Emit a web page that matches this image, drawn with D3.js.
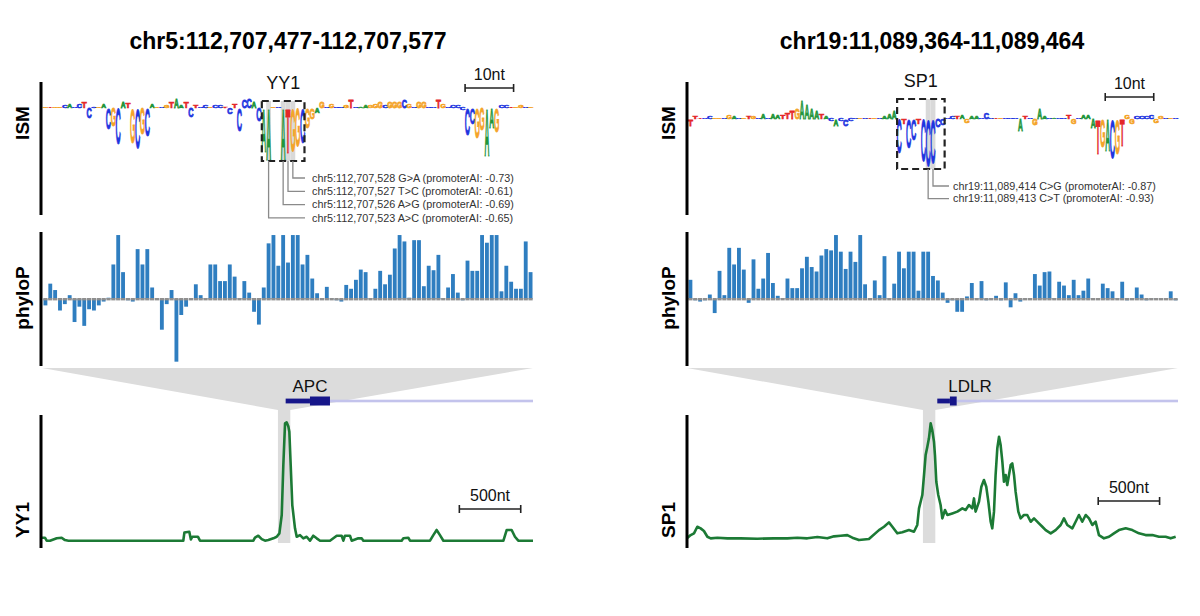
<!DOCTYPE html>
<html>
<head>
<meta charset="utf-8">
<title>ISM / phyloP / ChIP tracks</title>
<script src="https://cdn.jsdelivr.net/npm/d3@7"></script>
<style>
  body { margin: 0; background: #fff; }
  text { font-family: Arial, "Liberation Sans", sans-serif; }
</style>
</head>
<body>
<svg id="fig" width="1200" height="616"></svg>
<script>
// ---- data: left locus (APC / YY1) ----
const leftTitle = "chr5:112,707,477-112,707,577";
const leftSeq = "GTGGCACCTC" + "CGACGCATGC" + "GCAGCGTAAT" + "CTCCGCCTCT" + "CCCACAAGCA" +
                "TGGCGGAGCG" + "CCGTCAAGGG" + "CGGGCGCGGC" + "CTGCCCCCCG" + "GAAGCCTGGC" + "G";
const leftIsm = [
  0.05, 0.05, 0.06, 0.05, 0.12, 0.18, 0.05, 0.22, 0.3, -0.5,
  0.08, 0.06, 0.22, -1.05, -0.9, -1.8, 0.3, 0.28, -1.75, -2.0,
  -1.3, -1.4, 0.2, 0.06, 0.05, 0.12, 0.3, 0.45, 0.1, 0.3,
  -0.45, 0.15, 0.06, 0.12, 0.06, 0.1, 0.12, 0.08, -0.3, 0.2,
  -1.15, 0.4, 0.45, 0.35, -0.65, -2.2, -2.6, 0.05, 0.05, -2.6,
  -2.25, -2.15, -1.9, -1.75, -1.0, -0.55, -0.25, 0.35, 0.06, 0.2,
  0.06, 0.06, 0.15, 0.4, 0.06, 0.08, 0.12, 0.1, 0.2, 0.3,
  0.12, 0.3, 0.3, 0.3, 0.4, 0.2, 0.06, 0.3, 0.3, 0.06,
  0.05, 0.4, 0.2, 0.06, 0.15, 0.15, -0.1, -1.35, -0.8, -1.5,
  -1.1, -2.4, -1.0, -1.2, 0.15, 0.1, 0.06, 0.05, 0.15, 0.05,
  0.05
];
const leftPhyloP = [
  -0.5, 1.2, 0.7, -0.9, -0.4, 0.3, -1.8, -0.6, -2.1, -0.8,
  -0.9, -0.5, -0.2, 0.1, 2.7, 5.0, 2.1, -0.1, -0.2, 3.9,
  2.7, 3.9, 0.9, 0.05, -2.4, -0.4, 0.7, -4.9, -1.25, -0.6,
  0.05, 1.15, 0.3, 0.05, 2.7, 2.7, 1.4, 1.4, 2.7, 1.75,
  0.05, 1.4, 0.5, -1.0, -2.0, 0.9, 4.35, 5.0, 2.6, 5.0,
  2.85, 5.0, 5.0, 2.7, 3.45, 1.6, 0.45, 0.05, 0.95, 0.05,
  -0.1, -0.2, 1.1, 0.8, 1.5, 2.3, 2.1, 0.05, 0.8, 2.2,
  1.15, 1.9, 3.95, 5.0, 4.5, 0.1, 4.6, 4.6, 1.0, 2.6,
  2.25, 3.45, 0.05, 0.9, 1.95, 0.5, -0.1, 3.0, 2.2, 2.2,
  5.0, 4.4, 5.0, 5.0, 0.6, 2.6, 1.35, 0.8, 0.8, 4.5,
  2.1
];
const leftHighlight = [46, 49, 50, 51];
const leftVarIdx = [51, 50, 49, 46];
const leftVarLabels = [
  "chr5:112,707,528 G>A (promoterAI: -0.73)",
  "chr5:112,707,527 T>C (promoterAI: -0.61)",
  "chr5:112,707,526 A>G (promoterAI: -0.69)",
  "chr5:112,707,523 A>C (promoterAI: -0.65)"
];
const leftSigPos = [0, 24, 38, 65, 120, 160, 187, 215, 1151, 1160, 1200, 1213, 1225, 1270, 1287,
  1722, 1735, 1762, 1790, 1817, 1844, 1885, 1912, 1934, 1953, 1966, 1980, 1993, 2007, 2015,
  2026, 2039, 2061, 2075, 2102, 2129, 2156, 2183, 2210, 2238, 2265, 2346, 2401, 2441, 2455,
  2468, 2509, 2523, 2577, 2604, 2618, 2930, 2944, 2984, 2998, 3161, 3188, 3215, 3242, 3270,
  3759, 3786, 3826, 3853, 3880, 4000];
const leftSigVal = [2.4, 2.4, 0, 0, 1.9, 2.4, 0.5, 0, 0, 6.5, 7.2, 1, 3.2, 3.2, 0,
  0, 2.4, 4, 1.3, 0, 0.5, 1.9, 3.2, 5.9, 20.6, 60.7, 94.1, 94.9, 91.5, 87.4,
  60.7, 28.6, 9.9, 3.2, 4.5, 1.9, 3.2, 0, 4, 1.9, 0, 0, 4, 4, 0,
  4, 4, 0, 1.9, 1.9, 0, 0, 1.9, 2.4, 0, 0, 4.5, 8.6, 4.5, 0,
  0, 8.6, 8.6, 3.2, 0, 0];
const leftGeneUtr = [1985, 2183];
const leftGeneCds = [2183, 2346];

// ---- data: right locus (LDLR / SP1) ----
const rightTitle = "chr19:11,089,364-11,089,464";
const rightSeq = "TTTCCGGCGA" + "CGTGCACAAT" + "TTGAAAATAC" + "ACCCCGCTGC" + "AAACTCCTCC" +
                 "CCCCCTAGAA" + "CCCTGCCCAT" + "CGAACACCTG" + "CAAATGACGT" + "GGCCCCGGCG" + "C";
const rightIsm = [
  -0.35, 0.15, 0.05, 0.05, 0.1, 0.05, 0.05, 0.05, 0.2, 0.15,
  0.05, 0.05, 0.1, 0.12, 0.05, 0.25, 0.05, 0.25, 0.2, 0.2,
  0.3, 0.4, 0.55, 0.95, 0.75, 0.55, 0.4, 0.25, 0.1, -0.1,
  -0.35, -0.1, -0.35, -0.1, 0.05, 0.05, 0.05, 0.05, 0.05, 0.05,
  0.15, 0.25, 0.4, -1.7, -0.25, -1.45, -1.05, -0.25, -2.1, -2.35,
  -2.2, -0.4, -0.3, 0.05, 0.1, 0.1, 0.2, -0.2, 0.15, 0.1,
  0.05, 0.3, 0.05, 0.05, 0.05, 0.05, 0.05, 0.05, -0.6, 0.15,
  0.05, -0.3, 0.5, 0.1, 0.05, 0.05, 0.05, 0.05, 0.2, -0.25,
  0.05, 0.2, 0.2, -0.45, -1.75, -1.4, -1.6, -1.95, -1.75, -1.33,
  0.2, -0.25, 0.1, 0.1, 0.1, 0.2, -0.2, 0.1, 0.05, 0.05,
  0.05
];
const rightPhyloP = [
  1.5, -0.1, -0.2, -0.1, 0.35, -1.1, 2.2, 0.3, 4.0, 2.7,
  4.0, 2.3, -0.3, 3.1, 0.8, 1.6, 3.6, 1.25, 0.25, 0.05,
  1.6, 0.85, 0.85, 2.4, 3.3, 2.5, 2.15, 3.4, 3.9, 3.8,
  5.0, 3.7, 2.35, 3.7, 2.9, 5.0, 1.15, 0.05, 1.45, 0.3,
  3.35, 0.05, 1.2, 3.7, 2.4, 3.7, 3.7, 0.65, 3.7, 3.7,
  1.8, 1.45, 0.5, -0.3, -0.1, -1.0, -1.0, 0.2, 1.25, 0.05,
  1.4, -0.1, 0.05, 0.25, -0.1, 1.3, -0.65, 0.45, -0.2, 0.05,
  0.05, 1.95, 1.05, 2.1, 2.15, 0.05, 1.35, 1.05, 0.3, 1.5,
  0.3, 0.65, 1.6, 0.05, 0.05, 1.2, 0.85, 0.6, 0.05, 1.35,
  -0.1, 0.05, 0.9, 0.35, -0.1, 0.05, 0.05, 0.05, 0.05, 0.6,
  -0.1
];
const rightHighlight = [49, 50];
const rightVarIdx = [50, 49];
const rightVarLabels = [
  "chr19:11,089,414 C>G (promoterAI: -0.87)",
  "chr19:11,089,413 C>T (promoterAI: -0.93)"
];
const rightSigPos = [0, 30, 57, 84, 111, 138, 166, 193, 247, 329,
  437, 573, 709, 817, 899, 980, 1062, 1143, 1198, 1252,
  1306, 1347, 1401, 1482, 1564, 1605, 1645, 1673, 1713, 1754,
  1808, 1849, 1876, 1890, 1917, 1931, 1944, 1958, 1971, 1985,
  1998, 2012, 2020, 2031, 2047, 2066, 2080, 2102, 2121, 2161,
  2202, 2243, 2270, 2297, 2324, 2338, 2351, 2379, 2398, 2419,
  2438, 2455, 2474, 2487, 2501, 2514, 2528, 2542, 2555, 2569,
  2582, 2596, 2609, 2623, 2637, 2650, 2664, 2677, 2699, 2718,
  2745, 2772, 2800, 2827, 2867, 2895, 2922, 2963, 3003, 3044,
  3071, 3098, 3139, 3166, 3193, 3220, 3248, 3275, 3302, 3329,
  3356, 3397, 3438, 3478, 3519, 3574, 3628, 3682, 3736, 3791,
  3845, 3899, 3940, 3981];
const rightSigVal = [1.9, 4.5, 5.9, 11.2, 9.9, 7.8, 3.2, 1.9, 2.4, 1.9,
  1.9, 1.6, 1.9, 1.9, 2.4, 1.9, 2.9, 1.9, 3.5, 4.0,
  4.5, 2.4, 0.5, 1.3, 8.5, 11.2, 14.7, 11.2, 5.9, 6.7,
  8.5, 7.2, 12.6, 25.9, 36.6, 52.7, 68.7, 75.4, 82.1, 94.1,
  88.8, 79.4, 68.7, 47.3, 36.6, 28.6, 17.9, 24.6, 20.6, 21.9,
  23.3, 25.9, 24.6, 28.6, 25.9, 33.9, 23.3, 31.3, 43.3, 48.7,
  43.3, 31.3, 15.2, 9.9, 23.3, 52.7, 74.1, 83.4, 76.7, 63.4,
  47.3, 52.7, 44.6, 52.7, 60.7, 62.0, 52.7, 39.3, 23.3, 17.9,
  20.6, 20.6, 15.2, 17.9, 13.9, 11.2, 8.5, 5.9, 8.5, 12.6,
  17.9, 12.6, 9.9, 15.2, 20.6, 15.2, 20.6, 17.9, 12.6, 15.2,
  4.5, 1.9, 3.2, 5.9, 8.5, 9.9, 8.5, 5.9, 4.5, 4.5,
  3.2, 3.2, 1.9, 3.2];
const rightGeneUtr = [2039, 2142];
const rightGeneCds = [2142, 2197];

// shared
const ismWindow = [1922, 2023];   // ISM 101nt window inside the 4kb track
const trackLength = 4000;

// Layout per panel
const panels = [
  { title: leftTitle, titleX: 288, labelX: 22, axisX: 41, x0: 43, x1: 533,
    seq: leftSeq, ism: leftIsm, ismBase: 108, phylo: leftPhyloP,
    motif: "YY1", motifIdx: [45, 53], motifTop: 0.35, motifBot: -2.65,
    hi: leftHighlight, varIdx: leftVarIdx, varLabels: leftVarLabels,
    varY0: 178, varDy: 13.3, varLineEnd: 305, varTextX: 312,
    ntBar: [87, 97], ntBarY: 88,
    track: "YY1", sigPos: leftSigPos, sigVal: leftSigVal,
    gene: "APC", geneLabelX: 310, utr: leftGeneUtr, cds: leftGeneCds,
    kbBar: [3400, 3900], kbBarY: 509 },
  { title: rightTitle, titleX: 932, labelX: 668, axisX: 687, x0: 688, x1: 1178,
    seq: rightSeq, ism: rightIsm, ismBase: 119, phylo: rightPhyloP,
    motif: "SP1", motifIdx: [43, 52], motifTop: 1.0, motifBot: -2.5,
    hi: rightHighlight, varIdx: rightVarIdx, varLabels: rightVarLabels,
    varY0: 186, varDy: 12.7, varLineEnd: 949, varTextX: 953,
    ntBar: [86, 96], ntBarY: 97,
    track: "SP1", sigPos: rightSigPos, sigVal: rightSigVal,
    gene: "LDLR", geneLabelX: 970, utr: rightGeneUtr, cds: rightGeneCds,
    kbBar: [3350, 3850], kbBarY: 501 }
];

const letterColor = { A: "#23963b", C: "#1e35e0", G: "#f4a42a", T: "#e42729" };
const glyphW = { A: 0.72, C: 0.66, G: 0.70, T: 0.60 };
const barColor = "#2f7ec0";
const sigColor = "#1c7a35";

const svg = d3.select("#fig");
svg.append("rect").attr("width", 1200).attr("height", 616).attr("fill", "#fff");

function scaleBar(g, xa, xb, y, label) {
  g.append("line").attr("x1", xa).attr("x2", xb).attr("y1", y).attr("y2", y)
    .attr("stroke", "#222").attr("stroke-width", 1.6);
  [xa, xb].forEach(x => g.append("line").attr("x1", x).attr("x2", x)
    .attr("y1", y - 4).attr("y2", y + 4).attr("stroke", "#222").attr("stroke-width", 1.6));
  g.append("text").attr("x", (xa + xb) / 2).attr("y", y - 8.5)
    .attr("text-anchor", "middle").attr("font-size", 16).attr("fill", "#111").text(label);
}

function yLabel(g, x, y, label) {
  g.append("text").attr("transform", `translate(${x},${y}) rotate(-90)`)
    .attr("text-anchor", "middle").attr("dy", "0.36em")
    .attr("font-size", 19).attr("font-weight", "bold").text(label);
}

function axisLine(g, x, y1, y2) {
  g.append("line").attr("x1", x).attr("x2", x).attr("y1", y1).attr("y2", y2)
    .attr("stroke", "#000").attr("stroke-width", 3);
}

panels.forEach(p => {
  const g = svg.append("g");
  const n = p.seq.length;
  const xs = d3.scaleLinear().domain([0, n]).range([p.x0, p.x1]);
  const step = xs(1) - xs(0);
  const ys = d3.scaleLinear().domain([0, 1]).range([p.ismBase, p.ismBase - 20]);
  const yp = d3.scaleLinear().domain([-5.16, 5.16]).range([365, 233]);
  const xt = d3.scaleLinear().domain([0, trackLength]).range([p.x0 - 1, p.x1]);
  const yt = d3.scaleLinear().domain([0, 100]).range([540.7, 416]);

  // title
  g.append("text").attr("x", p.titleX).attr("y", 49).attr("text-anchor", "middle")
    .attr("font-size", 23).attr("font-weight", "bold").text(p.title);

  // ---- ISM logo ----
  const boxTop = ys(p.motifTop), boxBot = ys(p.motifBot);
  g.selectAll(".hi").data(p.hi).join("rect")
    .attr("x", d => xs(d)).attr("width", step)
    .attr("y", boxTop).attr("height", boxBot - boxTop).attr("fill", "#d9d9d9");

  const base = ys(0);
  p.seq.split("").forEach((ch, i) => {
    const v = p.ism[i];
    const h = Math.abs(ys(v) - base);
    const sx = step / (glyphW[ch] * 100);
    const sy = h / 71.6;
    const ty = v >= 0 ? base : base + h;
    g.append("text")
      .attr("transform", `translate(${xs(i + 0.5)},${ty}) scale(${sx},${sy})`)
      .attr("text-anchor", "middle").attr("font-size", 100).attr("font-weight", "bold")
      .attr("fill", letterColor[ch])
      .attr("stroke", letterColor[ch]).attr("stroke-width", 0.7)
      .attr("vector-effect", "non-scaling-stroke")
      .text(ch);
  });

  // motif box
  g.append("rect")
    .attr("x", xs(p.motifIdx[0]) + 0.5).attr("width", xs(p.motifIdx[1] + 1) - xs(p.motifIdx[0]) - 1)
    .attr("y", boxTop).attr("height", boxBot - boxTop)
    .attr("fill", "none").attr("stroke", "#222").attr("stroke-width", 2.2)
    .attr("stroke-dasharray", "7,4");
  g.append("text").attr("x", (xs(p.motifIdx[0]) + xs(p.motifIdx[1] + 1)) / 2).attr("y", boxTop - 12)
    .attr("text-anchor", "middle").attr("font-size", 18).attr("fill", "#111").text(p.motif);

  // variant call-outs
  p.varIdx.forEach((idx, k) => {
    const cx = xs(idx + 0.5), ly = p.varY0 + k * p.varDy;
    g.append("path").attr("d", `M${cx},${boxBot}V${ly}H${p.varLineEnd}`)
      .attr("fill", "none").attr("stroke", "#8a8a8a").attr("stroke-width", 1.3);
    g.append("text").attr("x", p.varTextX).attr("y", ly).attr("dy", "0.35em")
      .attr("font-size", 10.8).attr("fill", "#333").text(p.varLabels[k]);
  });

  scaleBar(g, xs(p.ntBar[0]), xs(p.ntBar[1]), p.ntBarY, "10nt");
  axisLine(g, p.axisX, 82, 215);
  yLabel(g, p.labelX, 123, "ISM");

  // ---- phyloP bars ----
  g.selectAll(".pb").data(p.phylo).join("rect")
    .attr("x", (d, i) => xs(i) + 0.5).attr("width", step - 1)
    .attr("y", d => Math.min(yp(d), yp(0))).attr("height", d => Math.abs(yp(d) - yp(0)))
    .attr("fill", barColor);
  g.selectAll(".pz").data(p.phylo).join("rect")
    .attr("x", (d, i) => xs(i) + 0.3).attr("width", step - 0.6)
    .attr("y", yp(0) - 1).attr("height", 2.4).attr("fill", "#8f8f8f");
  axisLine(g, p.axisX, 232, 366);
  yLabel(g, p.labelX, 298, "phyloP");

  // ---- zoom funnel ----
  const wa = xt(ismWindow[0]), wb = xt(ismWindow[1]);
  g.append("path")
    .attr("d", `M${p.x0 - 1},368L${p.x1},368L${wb},410L${wb},543L${wa},543L${wa},410Z`)
    .attr("fill", "#dcdcdc");

  // gene model
  g.append("rect").attr("x", xt(p.cds[1])).attr("width", xt(trackLength) - xt(p.cds[1]))
    .attr("y", 399.7).attr("height", 2.6).attr("fill", "#c3c3ec");
  g.append("rect").attr("x", xt(p.utr[0])).attr("width", xt(p.utr[1]) - xt(p.utr[0]))
    .attr("y", 398.6).attr("height", 4.8).attr("fill", "#16168a");
  g.append("rect").attr("x", xt(p.cds[0])).attr("width", xt(p.cds[1]) - xt(p.cds[0]))
    .attr("y", 396.5).attr("height", 9).attr("fill", "#16168a");
  g.append("text").attr("x", p.geneLabelX).attr("y", 391.5).attr("text-anchor", "middle")
    .attr("font-size", 17).attr("fill", "#111").text(p.gene);

  // ---- ChIP signal ----
  const line = d3.line().x(d => xt(d[0])).y(d => yt(d[1]));
  g.append("path").datum(p.sigPos.map((x, i) => [x, p.sigVal[i]]))
    .attr("d", line).attr("fill", "none").attr("stroke", sigColor)
    .attr("stroke-width", 2.6).attr("stroke-linejoin", "round");
  axisLine(g, p.axisX, 415, 548);
  yLabel(g, p.labelX, 520, p.track);
  scaleBar(g, xt(p.kbBar[0]), xt(p.kbBar[1]), p.kbBarY, "500nt");
});
</script>
</body>
</html>
